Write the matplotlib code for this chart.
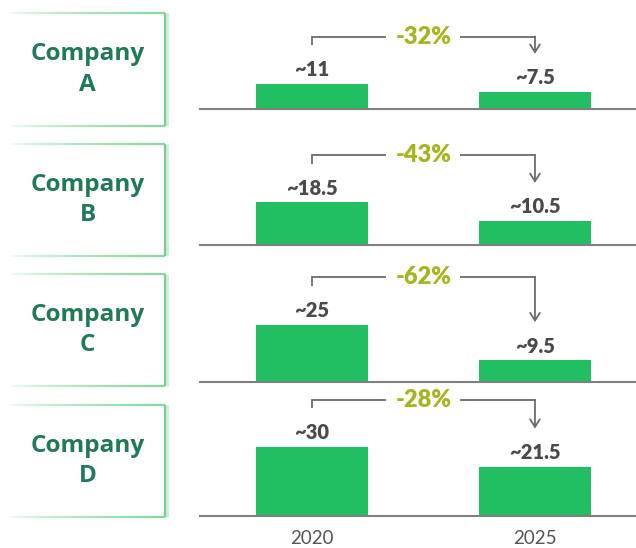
import matplotlib
matplotlib.use("Agg")
import numpy as np
import matplotlib.pyplot as plt
from matplotlib.collections import LineCollection
from matplotlib.colors import to_rgba

# ---- data -------------------------------------------------------------
companies = ["A", "B", "C", "D"]
years = ["2020", "2025"]
values_2020 = [11, 18.5, 25, 30]
values_2025 = [7.5, 10.5, 9.5, 21.5]

# ---- style ------------------------------------------------------------
BAR_GREEN = "#22bf62"
TITLE_GREEN = "#1f7a55"
BOX_GREEN = "#86d6a1"
OLIVE = "#a4b51d"
VALUE_GRAY = "#4a4a4a"
LINE_GRAY = "#6b6b6b"
AXIS_GRAY = "#808080"

W, H = 636, 548
fig = plt.figure(figsize=(W / 100, H / 100), dpi=100)
fig.patch.set_facecolor("white")


def px_axes(x0, top, w, h):
    """Axes placed by pixel box (x0, top, width, height) measured from the top-left."""
    return fig.add_axes([x0 / W, 1 - (top + h) / H, w / W, h / H])


PX_PER_UNIT = 2.3
PANEL_H = 110
baselines = [109, 245, 382, 516]
boxes = [(13, 126), (144, 256), (274, 386), (405, 517)]

for i, (name, v1, v2) in enumerate(zip(companies, values_2020, values_2025)):
    # --- company label box with fading top/bottom borders ---
    top, bottom = boxes[i]
    lax = px_axes(10, top, 155, bottom - top)
    lax.set_xlim(0, 1)
    lax.set_ylim(0, 1)
    lax.axis("off")
    n = 120
    xs = np.linspace(0, 1, n + 1)
    base = np.array(to_rgba(BOX_GREEN))
    for yy in (1, 0):
        segs = [[(xs[k], yy), (xs[k + 1], yy)] for k in range(n)]
        cols = np.tile(base, (n, 1))
        cols[:, 3] = np.clip((xs[:-1] + 0.02) ** 0.6, 0, 1)
        lax.add_collection(LineCollection(segs, colors=cols, linewidths=1.6,
                                          clip_on=False))
    lax.plot([1.012, 1.012], [0, 1], color="#d5ecdc", lw=2.2, clip_on=False,
             solid_capstyle="butt")
    lax.plot([1, 1], [0, 1], color="#74cf93", lw=1.6, clip_on=False,
             solid_capstyle="butt")
    lax.text(0.5, 0.5, f"Company\n{name}", ha="center", va="center",
             fontsize=17.5, fontweight="bold", color=TITLE_GREEN,
             family=["Open Sans", "DejaVu Sans"], linespacing=1.38)

    # --- bar panel ---
    ax = px_axes(200, baselines[i] - PANEL_H, 436, PANEL_H)
    ax.set_xlim(-0.502, 1.453)
    ax.set_ylim(0, PANEL_H / PX_PER_UNIT)
    for side in ("top", "left", "right"):
        ax.spines[side].set_visible(False)
    ax.spines["bottom"].set_color(AXIS_GRAY)
    ax.spines["bottom"].set_linewidth(1.5)
    ax.spines["bottom"].set_zorder(5)
    ax.set_yticks([])
    ax.patch.set_alpha(0)

    ax.bar([0, 1], [v1, v2], width=0.5, color=BAR_GREEN, zorder=2)
    for x, v in zip([0, 1], [v1, v2]):
        ax.annotate(f"~{v:g}", (x, v), xytext=(0, 5.5), textcoords="offset points",
                    ha="center", va="baseline", fontsize=14.5, fontweight="heavy",
                    color=VALUE_GRAY, family=["Lato", "DejaVu Sans"],
                    annotation_clip=False)

    # change bracket from the 2020 bar to the 2025 bar
    y_br = v1 + 20.5
    y_tick = v1 + 16.8
    y_tip = v2 + 16.5
    ax.plot([0, 0, 0.33], [y_tick, y_br, y_br], color=LINE_GRAY, lw=1.3,
            clip_on=False, solid_joinstyle="miter", solid_capstyle="butt")
    ax.plot([0.67, 1], [y_br, y_br], color=LINE_GRAY, lw=1.3, clip_on=False,
            solid_capstyle="projecting")
    ax.annotate("", xy=(1, y_tip), xytext=(1, y_br),
                arrowprops=dict(arrowstyle="->,head_length=0.55,head_width=0.35",
                                color=LINE_GRAY, lw=1.3, shrinkA=0, shrinkB=0),
                annotation_clip=False)
    change = round((v2 - v1) / v1 * 100)
    ax.text(0.5, y_br, f"{change}%", ha="center", va="center",
            fontsize=17, fontweight="heavy", color=OLIVE,
            family=["Lato", "DejaVu Sans"])

    if i == len(companies) - 1:
        ax.set_xticks([0, 1])
        ax.set_xticklabels(years, fontsize=13.5, color="#555555",
                           family=["Lato", "DejaVu Sans"])
        ax.tick_params(axis="x", length=0, pad=10)
    else:
        ax.set_xticks([])

fig.savefig("out.png", dpi=100, facecolor="white")
